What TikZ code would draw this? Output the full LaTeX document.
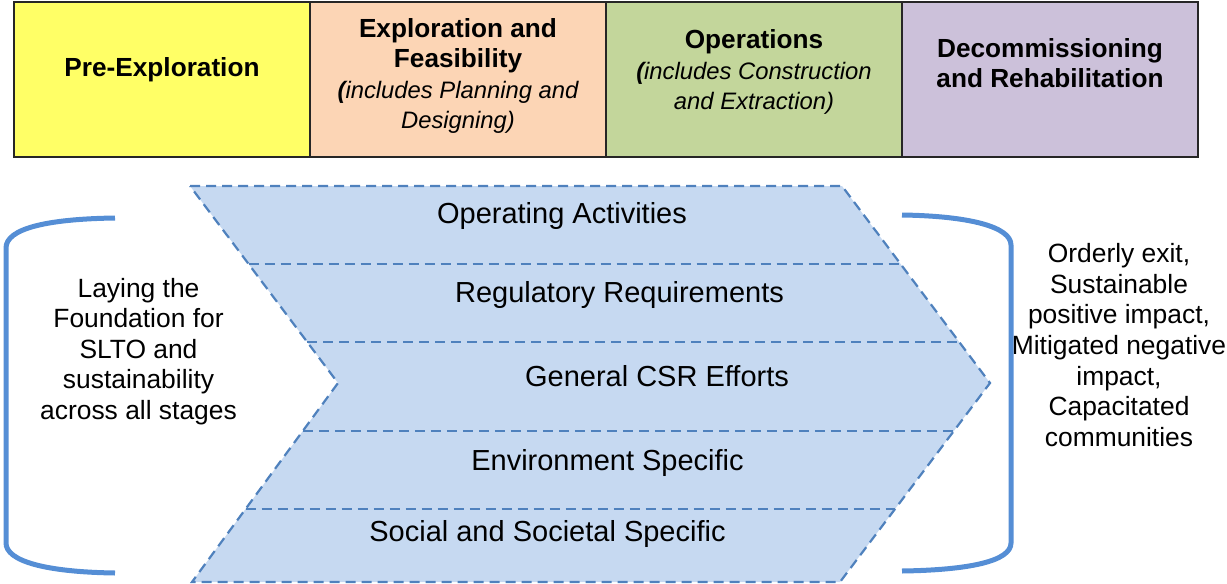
\documentclass[tikz,border=0pt]{standalone}
\usepackage{fontspec}
\setmainfont{Liberation Sans}
\usetikzlibrary{positioning, calc}
\definecolor{preyellow}{RGB}{255,255,102}
\definecolor{explpeach}{RGB}{252,213,181}
\definecolor{opsgreen}{RGB}{195,214,155}
\definecolor{decomlilac}{RGB}{204,193,218}
\definecolor{chevblue}{RGB}{198,217,241}
\definecolor{dashblue}{RGB}{79,129,189}
\definecolor{bracketblue}{RGB}{85,142,213}
\newcommand{\phasenote}[1]{{\mdseries\itshape\fontsize{23.8}{29.5}\selectfont #1}}

\begin{document}
\begin{tikzpicture}[
    x=1pt, y=-1pt,
    phase/.style={draw=black!85, line width=1.6pt, minimum width=296pt, minimum height=155pt, outer sep=0pt, inner sep=0pt},
    headtxt/.style={align=center, font=\fontsize{26.2}{30.5}\selectfont\bfseries},
    band/.style={font=\fontsize{29}{33}\selectfont},
    divider/.style={draw=dashblue, line width=2.2pt, dash pattern=on 10pt off 6pt},
    sidenote/.style={align=center, font=\fontsize{26.4}{30.6}\selectfont},
    bracket/.style={draw=bracketblue, line width=5pt}
]
    \useasboundingbox (0,0) rectangle (1227,584);

    \node[phase, fill=preyellow] (pre) at (162,79.5) {};
    \node[phase, fill=explpeach, right=0pt of pre] (expl) {};
    \node[phase, fill=opsgreen, right=0pt of expl] (ops) {};
    \node[phase, fill=decomlilac, right=0pt of ops] (decom) {};

    \node[headtxt] (preT) at ([yshift=9.5pt]pre.center) {Pre-Exploration};
    \node[headtxt] (explT) at ([yshift=3.5pt]expl.center) {Exploration and\\Feasibility\\\phasenote{\textbf{(}includes Planning and}\\\phasenote{Designing)}};
    \node[headtxt] (opsT) at ([yshift=7.5pt]ops.center) {Operations\\\phasenote{\textbf{(}includes Construction}\\\phasenote{and Extraction)}};
    \node[headtxt] (decomT) at ([yshift=16.5pt]decom.center) {Decommissioning\\and Rehabilitation};

    \coordinate (tl) at (190,186);
    \coordinate (notch) at (338,383);
    \coordinate (bl) at (192,582);
    \coordinate (tr) at (842,186);
    \coordinate (tip) at (990,383);
    \coordinate (br) at (840,582);
    \filldraw[fill=chevblue, divider] (tl) -- (tr) -- (tip) -- (br) -- (bl) -- (notch) -- cycle;
    \foreach \t in {0.396, 0.792}
        \draw[divider] ($(tl)!\t!(notch)$) -- ($(tr)!\t!(tip)$);
    \foreach \t in {0.241, 0.633}
        \draw[divider] ($(notch)!\t!(bl)$) -- ($(tip)!\t!(br)$);

    \node[band] (opact) at (562,216) {Operating Activities};
    \node[band] (regreq) at (619.5,295) {Regulatory Requirements};
    \node[band] (csr) at (657,376) {General CSR Efforts};
    \node[band] (envspec) at (607.5,463) {Environment Specific};
    \node[band] (socspec) at (547.5,534) {Social and Societal Specific};

    \draw[bracket] (115,218) .. controls (45,219) and (6,229) .. (6,248) -- (6,543) .. controls (6,561) and (45,572) .. (115,573);
    \draw[bracket] (902,215) .. controls (970,216) and (1011,227) .. (1011,245) -- (1011,543) .. controls (1011,561) and (970,570) .. (902,571);

    \node[sidenote] (foundation) at (138.5,351.5) {Laying the\\Foundation for\\SLTO and\\sustainability\\across all stages};
    \node[sidenote] (outcome) at (1119,345) {Orderly exit,\\Sustainable\\positive impact,\\Mitigated negative\\impact,\\Capacitated\\communities};
\end{tikzpicture}
\end{document}
